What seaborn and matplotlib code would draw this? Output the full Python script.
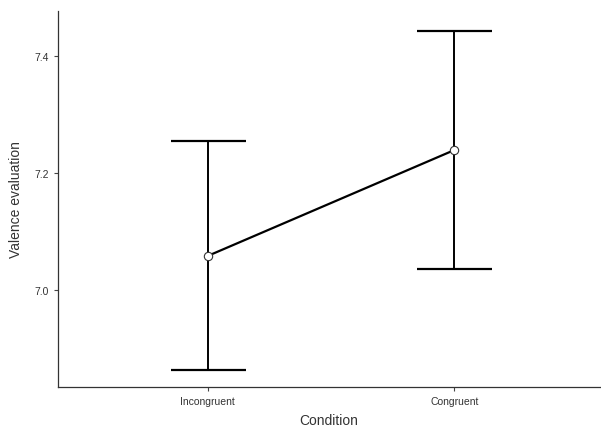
import matplotlib
matplotlib.use("Agg")
import matplotlib.pyplot as plt
import seaborn as sns
import pandas as pd

conditions = ["Incongruent", "Congruent"]
means = [7.058, 7.239]
lower = [6.863, 7.036]
upper = [7.255, 7.443]

df = pd.DataFrame({"Condition": conditions, "Valence evaluation": means})

sns.set_style("white")
plt.rcParams["font.family"] = ["Liberation Sans", "DejaVu Sans"]

fig = plt.figure(figsize=(6.01, 4.27), dpi=100)
ax = fig.add_axes([0.0965, 0.0913, 0.9015, 0.881])

sns.pointplot(data=df, x="Condition", y="Valence evaluation", errorbar=None,
              color="black", markers="o", linestyles="-", ax=ax,
              markersize=6, markerfacecolor="white", markeredgecolor="#333333",
              markeredgewidth=0.8, linewidth=1.6, zorder=3)

xs = list(range(len(conditions)))
yerr = [[m - l for m, l in zip(means, lower)], [u - m for m, u in zip(means, upper)]]
ax.errorbar(xs, means, yerr=yerr, fmt="none", ecolor="black", elinewidth=1.4,
            capsize=27, capthick=1.6, zorder=2)

ax.set_xlim(-0.607, 1.59)
ax.set_ylim(6.834, 7.477)
ax.set_yticks([7.0, 7.2, 7.4])
ax.set_yticklabels(["7.0", "7.2", "7.4"])
ax.tick_params(axis="both", labelsize=7.5, colors="#444444", length=3, width=0.8,
               direction="out", bottom=True, left=True, labelcolor="#333333")
ax.set_xlabel("Condition", fontsize=10, color="#333333", labelpad=5)
ax.set_ylabel("Valence evaluation", fontsize=10, color="#333333", labelpad=8)
for s in ["top", "right"]:
    ax.spines[s].set_visible(False)
for s in ["left", "bottom"]:
    ax.spines[s].set_color("#333333")
    ax.spines[s].set_linewidth(0.9)

fig.savefig("out.png", dpi=100)
